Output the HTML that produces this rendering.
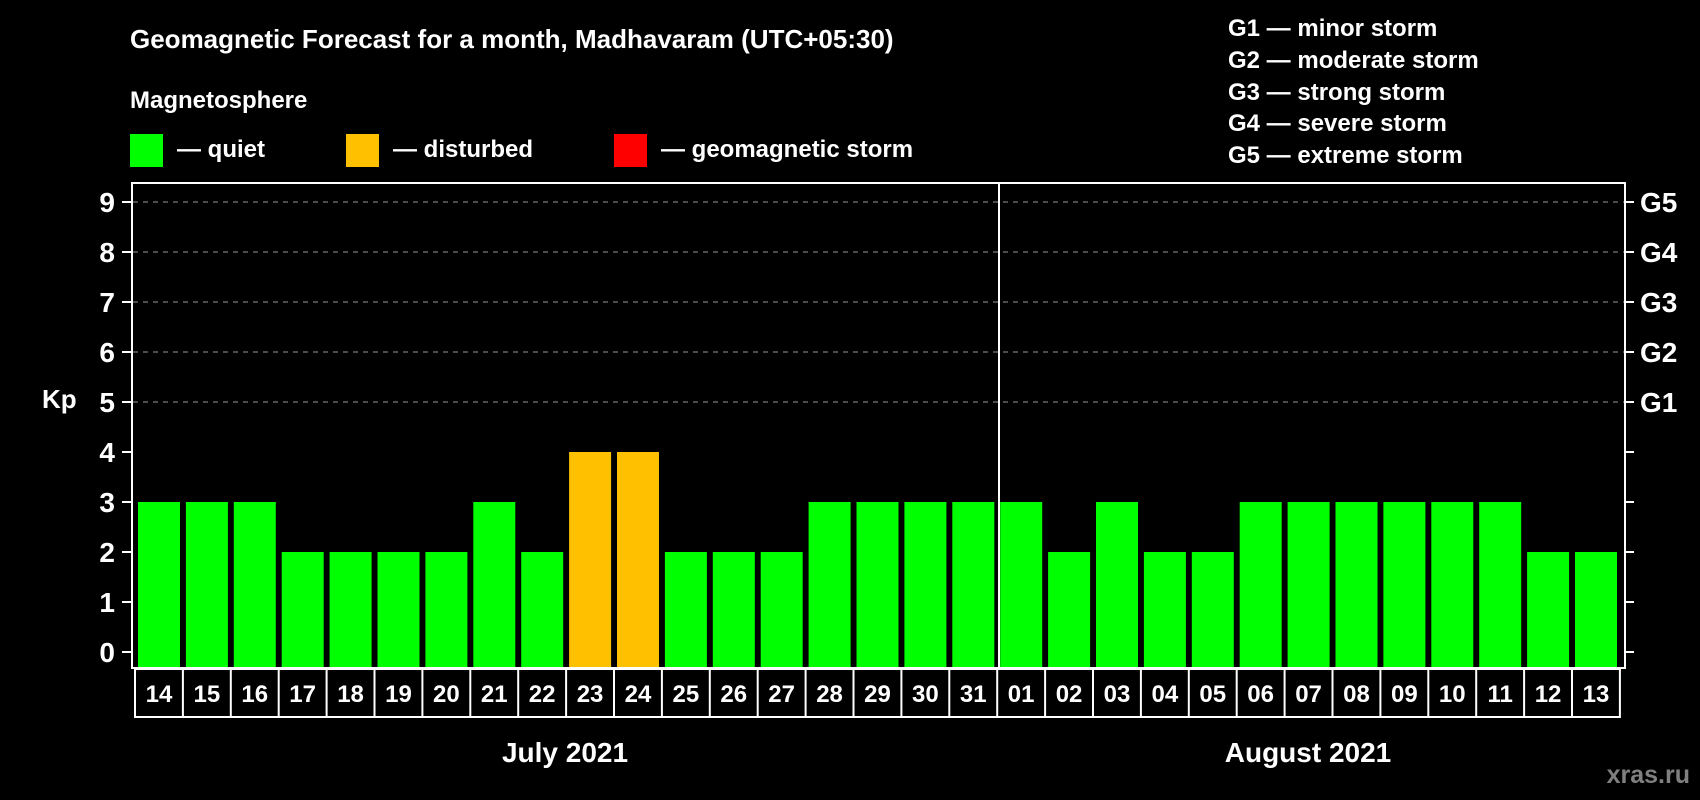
<!DOCTYPE html>
<html><head><meta charset="utf-8"><style>
html,body{margin:0;padding:0;background:#000;}
svg{display:block;font-family:"Liberation Sans",Arial,sans-serif;font-weight:bold;}
</style></head><body>
<svg id="chart" width="1700" height="800" viewBox="0 0 1700 800" xmlns="http://www.w3.org/2000/svg">
<rect width="1700" height="800" fill="#000"/>
<text x="130" y="48" fill="#fff" font-size="26">Geomagnetic Forecast for a month, Madhavaram (UTC+05:30)</text>
<text x="130" y="108" fill="#fff" font-size="24">Magnetosphere</text>
<g><rect x="130" y="134" width="33" height="33" fill="#00ff00"/><text x="177" y="157" fill="#fff" font-size="24">— quiet</text></g>
<g><rect x="346" y="134" width="33" height="33" fill="#ffc000"/><text x="393" y="157" fill="#fff" font-size="24">— disturbed</text></g>
<g><rect x="614" y="134" width="33" height="33" fill="#ff0000"/><text x="661" y="157" fill="#fff" font-size="24">— geomagnetic storm</text></g>
<g fill="#fff" font-size="24">
<text x="1228" y="36">G1 — minor storm</text>
<text x="1228" y="68">G2 — moderate storm</text>
<text x="1228" y="100">G3 — strong storm</text>
<text x="1228" y="131">G4 — severe storm</text>
<text x="1228" y="163">G5 — extreme storm</text>
</g>
<text x="42" y="408" fill="#fff" font-size="26">Kp</text>
<g id="grid"></g>
<g id="bars"></g>
<rect x="132" y="183" width="1493" height="485" fill="none" stroke="#fff" stroke-width="2"/>
<line x1="999" y1="183" x2="999" y2="668" stroke="#fff" stroke-width="2"/>
<g id="axes"></g>
<g id="dates"></g>
<text x="565" y="762" fill="#fff" font-size="28" text-anchor="middle">July 2021</text>
<text x="1308" y="762" fill="#fff" font-size="28" text-anchor="middle">August 2021</text>
<text x="1690" y="783" fill="#808080" font-size="25" text-anchor="end">xras.ru</text>
</svg>
<script>
const days = ["14","15","16","17","18","19","20","21","22","23","24","25","26","27","28","29","30","31","01","02","03","04","05","06","07","08","09","10","11","12","13"];
const kpValues = [3,3,3,2,2,2,2,3,2,4,4,2,2,2,3,3,3,3,3,2,3,2,2,3,3,3,3,3,3,2,2];
const yTicks = [0,1,2,3,4,5,6,7,8,9];
const gLabels = ["G1","G2","G3","G4","G5"];
const gLevels = [5,6,7,8,9];

const NS="http://www.w3.org/2000/svg";
const y0=652, unit=50, x0=135, slot=47.9;
const yScale=v=>y0-v*unit;
const xSlot=i=>x0+i*slot;
function mk(tag,attrs,parent){const e=document.createElementNS(NS,tag);for(const k in attrs)e.setAttribute(k,attrs[k]);parent.appendChild(e);return e;}
function color(v){return v>=5?"#ff0000":(v>=4?"#ffc000":"#00ff00");}
const grid=document.getElementById("grid"),bars=document.getElementById("bars"),axes=document.getElementById("axes"),dates=document.getElementById("dates");
gLevels.forEach(v=>{
  const l=mk("line",{x1:133,x2:1624,y1:yScale(v),y2:yScale(v),stroke:"#999","stroke-width":1,"stroke-dasharray":"5,5"},grid);
  
  
});
kpValues.forEach((v,i)=>{
  const r=mk("rect",{x:xSlot(i)+3,y:yScale(v),width:42,height:668-yScale(v),fill:color(v)},bars);
  
  
});
yTicks.forEach(v=>{
  mk("line",{x1:122,x2:132,y1:yScale(v),y2:yScale(v),stroke:"#fff","stroke-width":2},axes);
  mk("line",{x1:1625,x2:1634,y1:yScale(v),y2:yScale(v),stroke:"#fff","stroke-width":2},axes);
  const t=mk("text",{x:115,y:yScale(v)+10,fill:"#fff","font-size":28,"text-anchor":"end"},axes);
  t.textContent=v;
  
  
});
gLevels.forEach((v,i)=>{
  const t=mk("text",{x:1640,y:yScale(v)+10,fill:"#fff","font-size":28},axes);
  t.textContent=gLabels[i];
  
  
});
mk("rect",{x:x0,y:669,width:slot*days.length,height:48,fill:"none",stroke:"#fff","stroke-width":2},dates);
days.forEach((d,i)=>{
  if(i>0){mk("line",{x1:xSlot(i),x2:xSlot(i),y1:669,y2:717,stroke:"#fff","stroke-width":2},dates);}
  const t=mk("text",{x:xSlot(i)+slot/2,y:702,fill:"#fff","font-size":24,"text-anchor":"middle"},dates);
  t.textContent=d;
  
  
});
</script>
</body></html>
